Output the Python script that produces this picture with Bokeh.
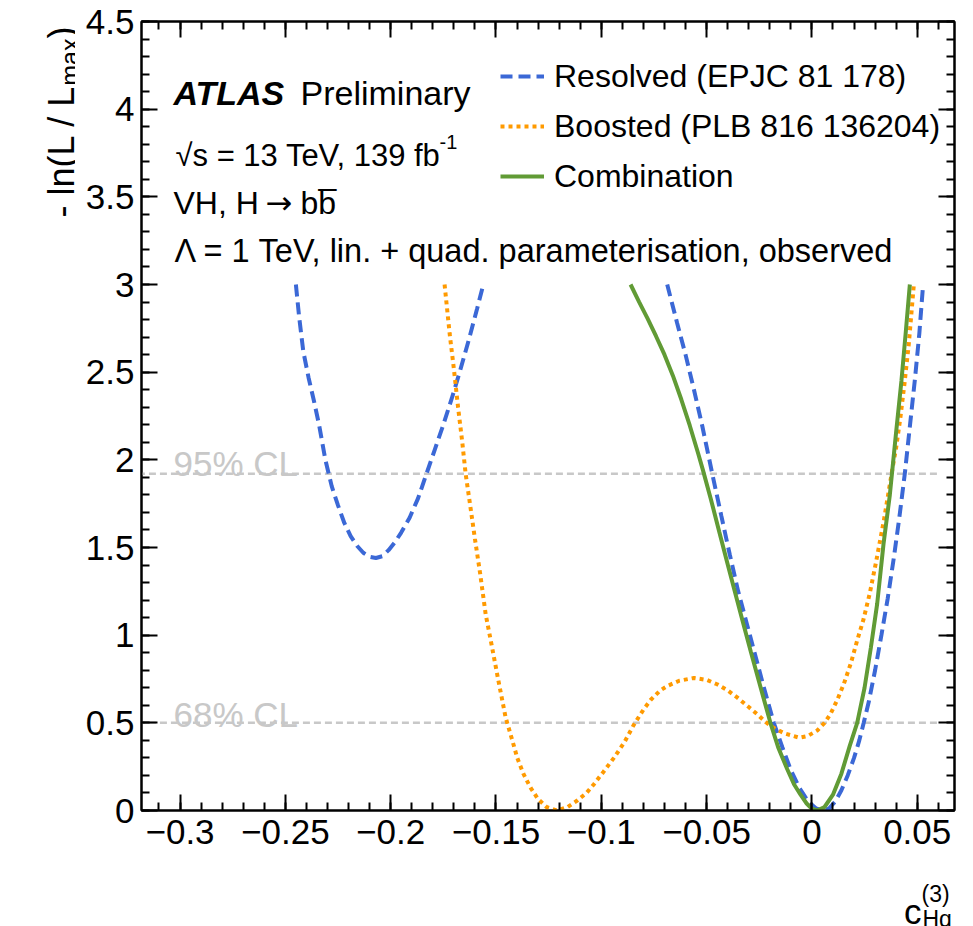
import numpy as np
from bokeh.plotting import figure
from bokeh.layouts import row, column
from bokeh.models import Range1d, FixedTicker, LinearAxis, Label, Legend, LegendItem
from bokeh.embed import file_html
from bokeh.resources import INLINE

# ---------------------------------------------------------------------------
# Likelihood scans: -ln(L/Lmax) versus c_Hq^(3)
# ---------------------------------------------------------------------------
# Resolved analysis: two separate wells (the scan leaves the plotted range in between)
resolved_left_c = [-0.2450, -0.2435, -0.2415, -0.2390, -0.2365, -0.2340, -0.2310,
                   -0.2280, -0.2250, -0.2220, -0.2190, -0.2160, -0.2130, -0.2100,
                   -0.2070, -0.2040, -0.2010, -0.1980, -0.1950, -0.1910, -0.1870,
                   -0.1830, -0.1790, -0.1750, -0.1710, -0.1670, -0.1630, -0.1590,
                   -0.1560]
resolved_left_nll = [3.00, 2.82, 2.62, 2.47, 2.34, 2.20, 2.00,
                     1.85, 1.74, 1.64, 1.565, 1.51, 1.47, 1.447,
                     1.44, 1.45, 1.485, 1.53, 1.585, 1.67, 1.78,
                     1.92, 2.06, 2.20, 2.35, 2.51, 2.68, 2.86,
                     3.00]

resolved_right_c = [-0.0687, -0.0640, -0.0600, -0.0560, -0.0520, -0.0473, -0.0430,
                    -0.0390, -0.0350, -0.0310, -0.0270, -0.0230, -0.0181, -0.0140,
                    -0.0100, -0.0060, -0.0020, 0.0020, 0.0050, 0.0080, 0.0110,
                    0.0140, 0.0170, 0.0200, 0.0225, 0.0246, 0.0270, 0.0300,
                    0.0330, 0.0360, 0.0390, 0.0415, 0.0441, 0.0465, 0.0490,
                    0.0510, 0.0528]
resolved_right_nll = [3.00, 2.78, 2.60, 2.40, 2.19, 1.92, 1.68,
                      1.46, 1.25, 1.07, 0.89, 0.71, 0.50, 0.36,
                      0.23, 0.13, 0.055, 0.012, 0.00, 0.01, 0.05,
                      0.115, 0.20, 0.30, 0.40, 0.50, 0.62, 0.80,
                      1.00, 1.21, 1.45, 1.67, 1.92, 2.19, 2.47,
                      2.72, 3.00]

# Boosted analysis
boosted_c = [-0.1744, -0.1720, -0.1700, -0.1680, -0.1660, -0.1644, -0.1620,
             -0.1600, -0.1575, -0.1549, -0.1520, -0.1490, -0.1454, -0.1420,
             -0.1399, -0.1370, -0.1336, -0.1300, -0.1260, -0.1210, -0.1160,
             -0.1114, -0.1070, -0.1035, -0.0990, -0.0940, -0.0890, -0.0845,
             -0.0800, -0.0766, -0.0720, -0.0687, -0.0630, -0.0560, -0.0500,
             -0.0450, -0.0400, -0.0355, -0.0300, -0.0260, -0.0220, -0.0180,
             -0.0130, -0.0060, -0.0020, 0.0025, 0.0060, 0.0088, 0.0120,
             0.0151, 0.0185, 0.0215, 0.0245, 0.0275, 0.0305, 0.0341,
             0.0381, 0.0400, 0.0420, 0.0440, 0.0460, 0.0484]
boosted_nll = [3.00, 2.72, 2.52, 2.30, 2.10, 1.92, 1.72,
               1.55, 1.35, 1.12, 0.94, 0.75, 0.53, 0.39,
               0.30, 0.21, 0.13, 0.065, 0.02, 0.00, 0.02,
               0.057, 0.10, 0.15, 0.22, 0.30, 0.39, 0.49,
               0.575, 0.63, 0.685, 0.71, 0.74, 0.756, 0.745,
               0.72, 0.685, 0.645, 0.59, 0.55, 0.505, 0.47,
               0.44, 0.415, 0.425, 0.456, 0.50, 0.55, 0.63,
               0.72, 0.84, 0.97, 1.09, 1.24, 1.42, 1.65,
               1.94, 2.07, 2.24, 2.44, 2.66, 3.00]

# Combination of both analyses
combined_c = [-0.0861, -0.0820, -0.0780, -0.0740, -0.0700, -0.0660, -0.0620,
              -0.0580, -0.0540, -0.0518, -0.0480, -0.0440, -0.0400, -0.0371,
              -0.0330, -0.0290, -0.0250, -0.0197, -0.0160, -0.0117, -0.0085,
              -0.0054, -0.0025, 0.0000, 0.0025, 0.0060, 0.0100, 0.0140,
              0.0180, 0.0215, 0.0250, 0.0280, 0.0310, 0.0340, 0.0370,
              0.0400, 0.0425, 0.0445, 0.0465]
combined_nll = [3.00, 2.90, 2.805, 2.705, 2.60, 2.48, 2.344,
                2.196, 2.036, 1.944, 1.777, 1.59, 1.405, 1.272,
                1.085, 0.905, 0.73, 0.50, 0.36, 0.235, 0.15,
                0.09, 0.04, 0.01, 0.00, 0.02, 0.09, 0.21,
                0.37, 0.50, 0.70, 0.93, 1.18, 1.52, 1.80,
                2.16, 2.45, 2.72, 3.00]

# Confidence-level reference lines
cl_levels = [0.5, 1.92]
cl_names = ["68% CL", "95% CL"]
cl_c_start = -0.32
cl_c_end = 0.06

# Axis ticks
x_ticks = [-0.3, -0.25, -0.2, -0.15, -0.1, -0.05, 0.0, 0.05]
x_tick_labels = ["\u22120.3", "\u22120.25", "\u22120.2", "\u22120.15",
                 "\u22120.1", "\u22120.05", "0", "0.05"]
x_minor_ticks = [round(-0.31 + 0.01 * i, 2) for i in range(38)]
y_ticks = [0.0, 0.5, 1.0, 1.5, 2.0, 2.5, 3.0, 3.5, 4.0, 4.5]
y_tick_labels = ["0", "0.5", "1", "1.5", "2", "2.5", "3", "3.5", "4", "4.5"]
y_minor_ticks = [round(0.1 * i, 1) for i in range(46)]

BLUE = "#3b68d6"
ORANGE = "#ff9a00"
GREEN = "#619b35"
GREY = "#c8c8c8"
FONT = "Liberation Sans"

# page geometry: a strip for the y title, the main plot, a strip for the x title
TOTAL_W, TOTAL_H = 973, 926
YSTRIP_W = 75
XSTRIP_H = 70
MAIN_W = TOTAL_W - YSTRIP_W
MAIN_H = TOTAL_H - XSTRIP_H


def text_strip(width, height):
    f = figure(width=width, height=height, output_backend="svg", toolbar_location=None,
               title=None, x_axis_location=None, y_axis_location=None,
               min_border=0, min_border_left=0, min_border_right=0,
               min_border_top=0, min_border_bottom=0,
               x_range=Range1d(0, 1), y_range=Range1d(0, 1))
    f.grid.visible = False
    f.outline_line_color = None
    f.background_fill_color = "white"
    f.border_fill_color = "white"
    return f


def add_text(fig, origin, text, x, y, size, style="normal", color="black",
             align="left", angle=0.0, font=FONT):
    """Place a text at page position (x, y) (pixels from the top-left of the page)."""
    ox, oy = origin
    fig.add_layout(Label(x=x - ox, y=y - oy, x_units="canvas", y_units="canvas", text=text,
                         text_font=font, text_font_size=size, text_font_style=style,
                         text_color=color, text_align=align, text_baseline="alphabetic",
                         angle=angle))


p = figure(width=MAIN_W, height=MAIN_H, x_range=Range1d(-0.3183, 0.0677), y_range=Range1d(0, 4.5),
           output_backend="svg", toolbar_location=None, title=None,
           min_border_left=141 - YSTRIP_W, min_border_right=19, min_border_top=21,
           min_border_bottom=MAIN_H - 810)
p.xgrid.visible = False
p.ygrid.visible = False
p.outline_line_color = "black"
p.outline_line_width = 2
p.background_fill_color = "white"
p.border_fill_color = "white"

p.add_layout(LinearAxis(), "above")
p.add_layout(LinearAxis(), "right")


def style_axis(ax, ticks, labels, minor, show_labels, standoff):
    ax.ticker = FixedTicker(ticks=ticks, minor_ticks=minor)
    ax.major_label_overrides = dict(zip(ticks, labels if show_labels else [""] * len(ticks)))
    ax.axis_line_color = "black"
    ax.axis_line_width = 2
    ax.major_tick_in = 16
    ax.major_tick_out = 0
    ax.minor_tick_in = 8
    ax.minor_tick_out = 0
    ax.major_tick_line_width = 2
    ax.minor_tick_line_width = 2
    ax.major_tick_line_color = "black"
    ax.minor_tick_line_color = "black"
    ax.major_label_text_font = FONT
    ax.major_label_text_color = "black"
    ax.major_label_standoff = standoff
    ax.major_label_text_font_size = "35px" if show_labels else "8px"


style_axis(p.below[0], x_ticks, x_tick_labels, x_minor_ticks, True, 9)
style_axis(p.left[0], y_ticks, y_tick_labels, y_minor_ticks, True, 7)
style_axis(p.above[0], x_ticks, x_tick_labels, x_minor_ticks, False, 0)
style_axis(p.right[0], y_ticks, y_tick_labels, y_minor_ticks, False, 0)

# CL reference lines
p.segment(x0=[cl_c_start] * len(cl_levels), y0=cl_levels,
          x1=[cl_c_end] * len(cl_levels), y1=cl_levels,
          line_color=GREY, line_width=2.5, line_dash="7 4")

# Likelihood curves
resolved_c = np.array(resolved_left_c + [np.nan] + resolved_right_c, dtype=float)
resolved_nll = np.array(resolved_left_nll + [np.nan] + resolved_right_nll, dtype=float)
r_res = p.line(resolved_c, resolved_nll, line_color=BLUE, line_width=4, line_dash="12 6")
r_boo = p.line(boosted_c, boosted_nll, line_color=ORANGE, line_width=4, line_dash="4 4")
r_com = p.line(combined_c, combined_nll, line_color=GREEN, line_width=4)

legend = Legend(items=[LegendItem(label="Resolved (EPJC 81 178)", renderers=[r_res]),
                       LegendItem(label="Boosted (PLB 816 136204)", renderers=[r_boo]),
                       LegendItem(label="Combination", renderers=[r_com])],
                location=(359, 615), orientation="vertical",
                border_line_color=None, background_fill_alpha=0,
                label_text_font=FONT, label_text_font_size="32px", label_text_color="black",
                glyph_width=44, glyph_height=38, label_height=38,
                label_standoff=10, spacing=12, padding=0, margin=0)
p.add_layout(legend)

MAIN_ORIGIN = (YSTRIP_W, 0)

# Experiment / dataset information
add_text(p, MAIN_ORIGIN, "ATLAS", 173, 92, "34px", style="bold italic")
add_text(p, MAIN_ORIGIN, "Preliminary", 300, 92, "34px")
add_text(p, MAIN_ORIGIN, "\u221as = 13 TeV, 139 fb", 175, 155, "31px")
add_text(p, MAIN_ORIGIN, "-1", 439, 141, "20px")
add_text(p, MAIN_ORIGIN, "VH, H", 173, 202, "32px")
add_text(p, MAIN_ORIGIN, "\u2192", 265, 202, "32px", font="DejaVu Sans")
add_text(p, MAIN_ORIGIN, "bb", 300, 202, "32px")
add_text(p, MAIN_ORIGIN, "_", 318, 173, "32px")
add_text(p, MAIN_ORIGIN, "\u039b = 1 TeV, lin. + quad. parameterisation, observed",
         174, 250, "32.5px")

# CL labels
add_text(p, MAIN_ORIGIN, cl_names[1], 173, 463, "35px", color=GREY)
add_text(p, MAIN_ORIGIN, cl_names[0], 173, 714, "35px", color=GREY)

# y-axis title, drawn rotated in its own strip (built from the top down)
ystrip = text_strip(YSTRIP_W, TOTAL_H)
add_text(ystrip, (0, 0), ")", 61, 26, "36px", align="right", angle=np.pi / 2)
add_text(ystrip, (0, 0), "max", 69, 38, "25px", align="right", angle=np.pi / 2)
add_text(ystrip, (0, 0), "- ln(L / L", 61, 85, "36px", align="right", angle=np.pi / 2)

# x-axis title in the strip under the plot
xstrip = text_strip(MAIN_W, XSTRIP_H)
XSTRIP_ORIGIN = (YSTRIP_W, MAIN_H)
add_text(xstrip, XSTRIP_ORIGIN, "c", 921, 911, "35px", align="right")
add_text(xstrip, XSTRIP_ORIGIN, "Hq", 922, 918, "23px")
add_text(xstrip, XSTRIP_ORIGIN, "(3)", 921, 893, "23px")

page = row(ystrip, column(p, xstrip, spacing=0), spacing=0)
open("out.html", "w").write(file_html(page, INLINE))
